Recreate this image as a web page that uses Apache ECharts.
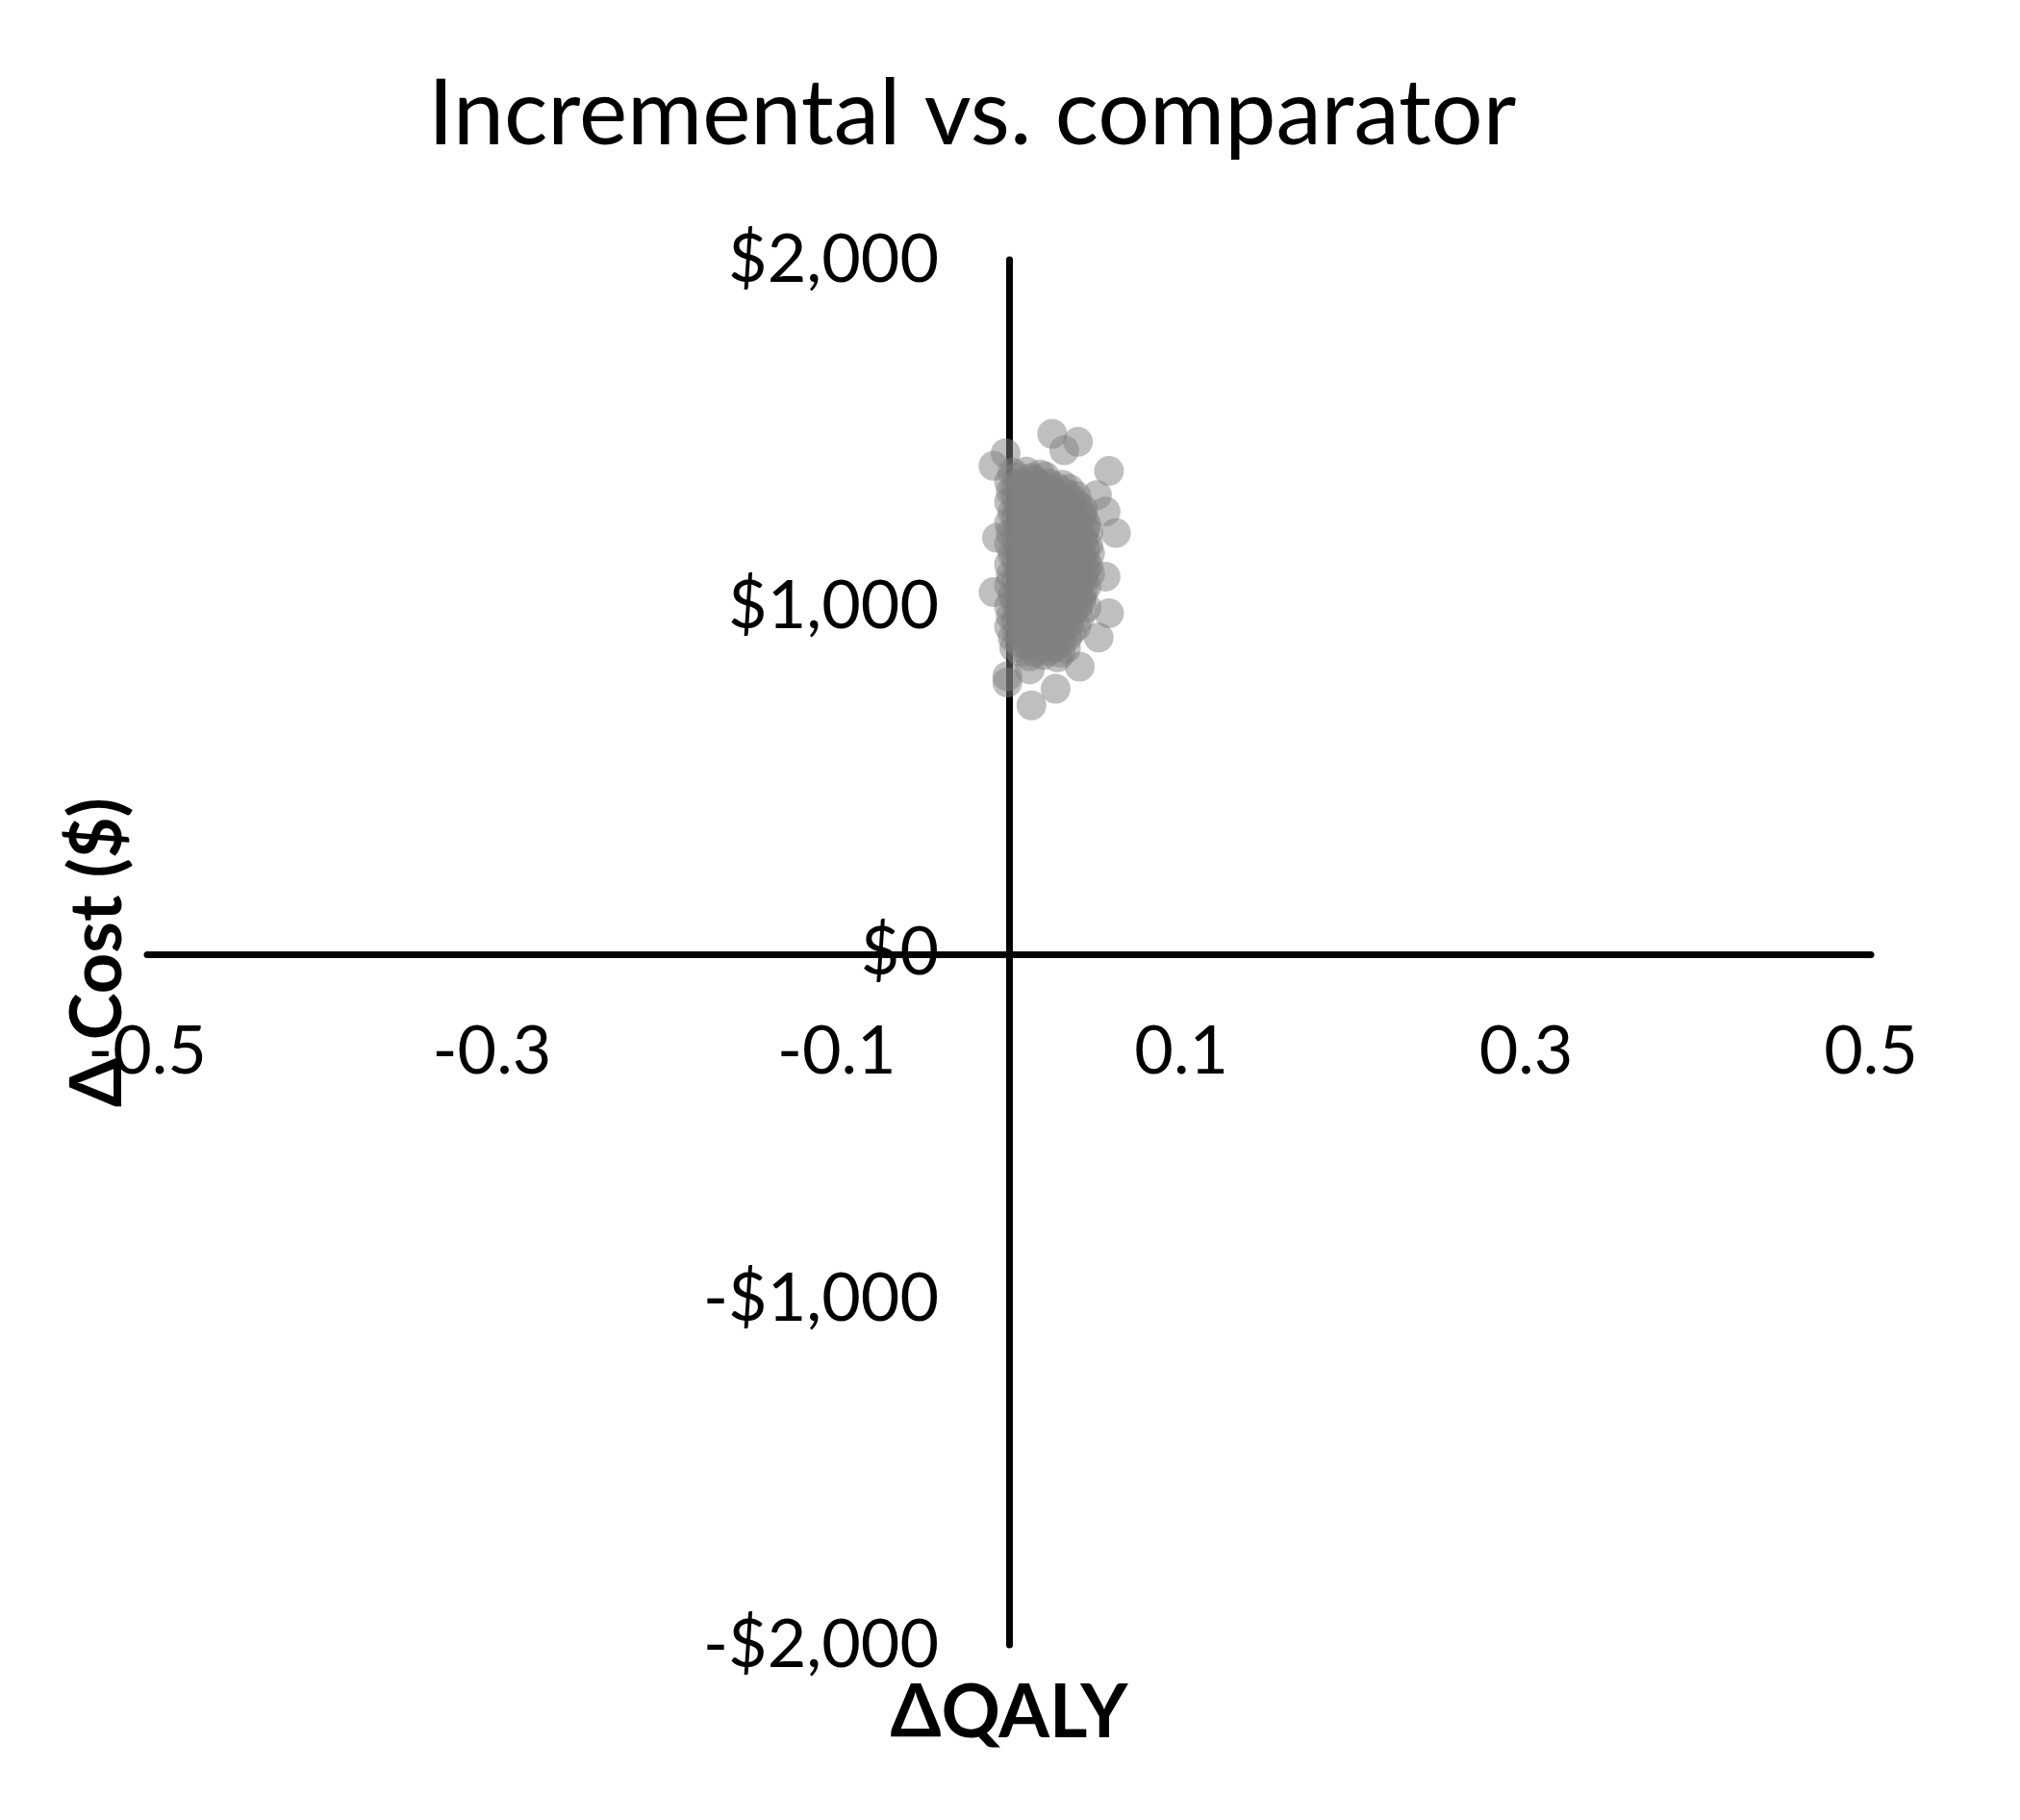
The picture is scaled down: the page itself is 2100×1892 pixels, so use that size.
<!DOCTYPE html>
<html>
<head>
<meta charset="utf-8">
<script src="https://cdn.jsdelivr.net/npm/echarts@6/dist/echarts.min.js"></script>
<style>
html,body{margin:0;padding:0;background:#fff;}
#chart{width:2100px;height:1892px;}
</style>
</head>
<body>
<div id="chart"></div>
<script>
// Tick labels
var xTicks = [-0.5, -0.3, -0.1, 0.1, 0.3, 0.5];
var yTicks = [-2000, -1000, 0, 1000, 2000];

// Core of the simulation cloud: [ΔQALY, ΔCost]
var corePoints = [
  [0.002,1385],[0.010,1388],[0.018,1380],
  [0.000,1360],[0.007,1357],[0.015,1362],[0.023,1355],[0.031,1350],
  [0.001,1330],[0.009,1333],[0.017,1328],[0.025,1331],[0.033,1325],[0.039,1318],
  [0.000,1300],[0.008,1302],[0.016,1297],[0.024,1301],[0.032,1296],[0.040,1292],
  [0.002,1270],[0.010,1268],[0.018,1273],[0.026,1267],[0.034,1271],[0.042,1264],
  [0.000,1240],[0.008,1243],[0.016,1238],[0.024,1241],[0.032,1236],[0.040,1242],[0.045,1235],
  [0.001,1210],[0.009,1207],[0.017,1212],[0.025,1208],[0.033,1211],[0.041,1206],[0.046,1213],
  [0.000,1180],[0.008,1183],[0.016,1178],[0.024,1182],[0.032,1177],[0.040,1181],[0.046,1176],
  [0.002,1150],[0.010,1148],[0.018,1153],[0.026,1147],[0.034,1151],[0.042,1146],[0.047,1152],
  [0.000,1120],[0.008,1123],[0.016,1118],[0.024,1121],[0.032,1117],[0.040,1122],[0.046,1116],
  [0.001,1090],[0.009,1087],[0.017,1092],[0.025,1088],[0.033,1091],[0.041,1086],[0.047,1093],
  [0.000,1060],[0.008,1063],[0.016,1058],[0.024,1062],[0.032,1057],[0.040,1061],[0.045,1056],
  [0.002,1030],[0.010,1028],[0.018,1033],[0.026,1027],[0.034,1031],[0.042,1026],
  [0.000,1000],[0.008,1003],[0.016,998],[0.024,1002],[0.032,997],[0.040,1001],[0.045,996],
  [0.001,970],[0.009,967],[0.017,972],[0.025,968],[0.033,971],[0.041,966],
  [0.000,940],[0.008,943],[0.016,938],[0.024,942],[0.032,937],[0.039,941],
  [0.002,910],[0.010,908],[0.018,913],[0.026,907],[0.034,911],
  [0.003,880],[0.011,883],[0.019,878],[0.027,882],[0.033,877],
  [0.012,855],[0.020,858],[0.028,852],
  [0.005,1372],[0.013,1370],[0.021,1374],
  [0.004,1345],[0.012,1343],[0.020,1347],[0.028,1341],[0.035,1338],
  [0.004,1315],[0.012,1317],[0.020,1312],[0.028,1316],[0.036,1311],
  [0.005,1285],[0.013,1283],[0.021,1288],[0.029,1284],[0.037,1286],[0.043,1280],
  [0.004,1255],[0.012,1257],[0.020,1252],[0.028,1256],[0.036,1251],[0.043,1254],
  [0.005,1225],[0.013,1223],[0.021,1228],[0.029,1224],[0.037,1226],[0.044,1221],
  [0.004,1195],[0.012,1197],[0.020,1192],[0.028,1196],[0.036,1191],[0.043,1194],
  [0.005,1165],[0.013,1163],[0.021,1168],[0.029,1164],[0.037,1166],[0.044,1161],
  [0.004,1135],[0.012,1137],[0.020,1132],[0.028,1136],[0.036,1131],[0.044,1134],
  [0.005,1105],[0.013,1103],[0.021,1108],[0.029,1104],[0.037,1106],[0.044,1101],
  [0.004,1075],[0.012,1077],[0.020,1072],[0.028,1076],[0.036,1071],[0.043,1074],
  [0.005,1045],[0.013,1043],[0.021,1048],[0.029,1044],[0.037,1046],[0.043,1041],
  [0.004,1015],[0.012,1017],[0.020,1012],[0.028,1016],[0.036,1011],[0.042,1014],
  [0.005,985],[0.013,983],[0.021,988],[0.029,984],[0.037,986],
  [0.004,955],[0.012,957],[0.020,952],[0.028,956],[0.035,951],
  [0.005,925],[0.013,923],[0.021,928],[0.029,924],[0.036,926],
  [0.006,895],[0.014,893],[0.022,898],[0.030,894],
  [0.007,868],[0.015,866],[0.023,870],[0.030,865]
];

// Outlying simulations around the cloud
var outerPoints = [
  [0.025,1497],[0.040,1474],[0.058,1390],[-0.002,1441],[-0.009,1405],
  [0.062,1211],[0.056,1273],[0.056,1085],[0.058,979],[-0.009,1040],
  [-0.007,1197],[-0.001,797],[0.012,817],[0.013,713],[0.027,761],
  [-0.001,779],[0.041,825],[0.052,909],[0.051,1320],[0.032,1450]
];

var FONT = 'Lato';
var X_MIN = -0.5, X_MAX = 0.5, Y_MIN = -2000, Y_MAX = 2000;

function fmtCost(v){
  var s = Math.abs(v).toLocaleString('en-US');
  return (v < 0 ? '-$' : '$') + s;
}

var chart = echarts.init(document.getElementById('chart'), null, {renderer:'canvas'});
chart.setOption({
  backgroundColor: '#ffffff',
  animation: false,
  title: {
    text: 'Incremental vs. comparator',
    left: 440,
    top: 67,
    textStyle: {fontFamily: FONT, fontSize: 95, fontWeight: 'normal', color: '#000'}
  },
  grid: [
    // plot area (data)
    {left: 153, right: 155, top: 270, bottom: 182, containLabel: false, outerBoundsMode: 'none'},
    // horizontal axis: its bottom edge is the ΔCost = 0 line
    {left: 153, right: 155, top: 270, bottom: 900, containLabel: false, outerBoundsMode: 'none'},
    // vertical axis: its left edge is the ΔQALY = 0 line
    {left: 1049, right: 155, top: 270, bottom: 182, containLabel: false, outerBoundsMode: 'none'}
  ],
  xAxis: [
    {gridIndex: 0, type: 'value', min: X_MIN, max: X_MAX, show: false},
    {
      gridIndex: 1, type: 'value', min: X_MIN, max: X_MAX, position: 'bottom',
      name: 'ΔQALY',
      nameLocation: 'middle',
      nameGap: 751,
      nameTextStyle: {fontFamily: FONT, fontSize: 76, fontWeight: 'bold', color: '#000'},
      axisLine: {show: true, onZero: false, lineStyle: {color: '#000', width: 7}},
      axisTick: {show: false},
      splitLine: {show: false},
      axisLabel: {
        customValues: xTicks,
        margin: 66,
        fontFamily: FONT, fontSize: 70, color: '#000',
        formatter: function(v){ return v.toFixed(1); }
      }
    },
    {gridIndex: 2, type: 'value', min: 0, max: X_MAX, show: false}
  ],
  yAxis: [
    {gridIndex: 0, type: 'value', min: Y_MIN, max: Y_MAX, show: false},
    {gridIndex: 1, type: 'value', min: 0, max: Y_MAX, show: false},
    {
      gridIndex: 2, type: 'value', min: Y_MIN, max: Y_MAX, interval: 1000, position: 'left',
      name: 'Δ Cost ($)',
      nameLocation: 'middle',
      nameRotate: 90,
      nameGap: 910,
      nameTextStyle: {fontFamily: FONT, fontSize: 74, fontWeight: 'bold', color: '#000'},
      axisLine: {show: true, onZero: false, lineStyle: {color: '#000', width: 7}},
      axisTick: {show: false},
      splitLine: {show: false},
      axisLabel: {
        customValues: yTicks,
        margin: 73,
        fontFamily: FONT, fontSize: 70, color: '#000',
        formatter: function(v){ return fmtCost(v); }
      }
    }
  ],
  series: [
    {
      type: 'scatter', xAxisIndex: 0, yAxisIndex: 0,
      data: corePoints,
      symbolSize: 31,
      itemStyle: {color: '#808080', opacity: 0.5}
    },
    {
      type: 'scatter', xAxisIndex: 0, yAxisIndex: 0,
      data: outerPoints,
      symbolSize: 31,
      itemStyle: {color: '#808080', opacity: 0.5}
    }
  ]
});
</script>
</body>
</html>
